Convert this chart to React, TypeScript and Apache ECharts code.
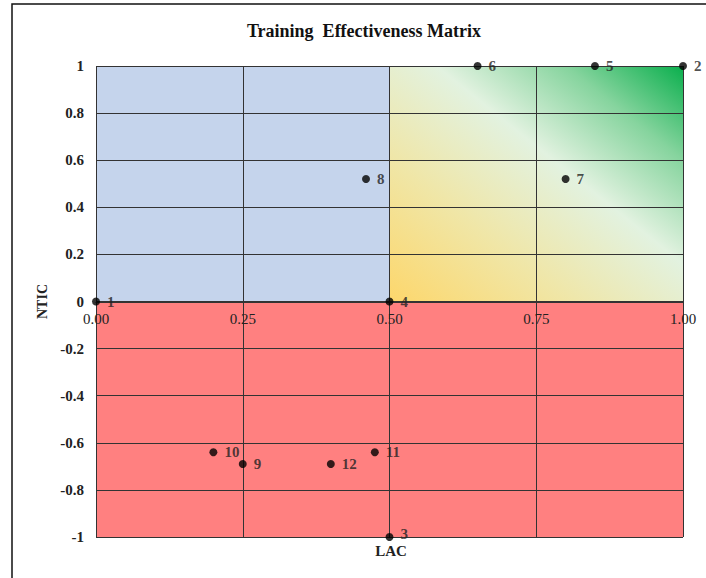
import React, { useEffect, useRef } from "react";
import * as echarts from "echarts";

const pointLabels = ["1", "2", "3", "4", "5", "6", "7", "8", "9", "10", "11", "12"];
const lacValues = [0, 1, 0.5, 0.5, 0.85, 0.65, 0.8, 0.46, 0.25, 0.2, 0.475, 0.4];
const nticValues = [0, 1, -1, 0, 1, 1, 0.52, 0.52, -0.69, -0.64, -0.64, -0.69];

const FONT = "'Liberation Serif', 'Times New Roman', serif";

export default function App() {
  const ref = useRef<HTMLDivElement>(null);
  useEffect(() => {
    document.body.style.margin = "0";
    const chart = echarts.init(ref.current!, null, { renderer: "svg" });
    const data = pointLabels.map((n, i) => ({
      name: n,
      value: [lacValues[i], nticValues[i]],
      label: n === "3" ? { offset: [0, -3] } : undefined,
    }));
    const gridColor = "#333333";
    chart.setOption({
      animation: false,
      backgroundColor: "#ffffff",
      title: {
        text: "Training  Effectiveness Matrix",
        left: 359,
        textAlign: "center",
        top: 17,
        textStyle: { fontFamily: FONT, fontWeight: "bold", fontSize: 18, color: "#111" },
      },
      graphic: [
        {
          type: "rect",
          shape: { x: 12, y: 4, width: 900, height: 800 },
          style: { fill: "none", stroke: "#111", lineWidth: 1.5 },
          silent: true,
          z: 100,
        },
        {
          type: "text",
          x: 391,
          y: 551,
          style: {
            text: "LAC",
            fontFamily: FONT,
            fontWeight: "bold",
            fontSize: 15,
            fill: "#222",
            align: "center",
            verticalAlign: "middle",
          },
          z: 50,
        },
      ],
      grid: { left: 96, right: 23, top: 66, bottom: 41, containLabel: false },
      xAxis: {
        type: "value",
        min: 0,
        max: 1,
        interval: 0.25,
        z: 3,
        position: "bottom",
        offset: -236,
        axisLine: { show: true, onZero: true, onZeroAxisIndex: 0, lineStyle: { color: gridColor, width: 1 } },
        axisTick: { show: false },
        axisLabel: {
          formatter: (v: number) => v.toFixed(2),
          fontFamily: FONT,
          fontSize: 15,
          color: "#222",
          margin: 10,
        },
        splitLine: { show: true, lineStyle: { color: gridColor, width: 1 } },
      },
      yAxis: {
        type: "value",
        min: -1,
        max: 1,
        interval: 0.2,
        z: 3,
        name: "NTIC",
        nameLocation: "middle",
        nameRotate: 90,
        nameGap: 44,
        nameTextStyle: { fontFamily: FONT, fontWeight: "bold", fontSize: 14, color: "#222" },
        axisLine: { show: false, onZero: false },
        axisTick: { show: false },
        axisLabel: {
          formatter: (v: number) => String(Math.round(v * 10) / 10),
          fontFamily: FONT,
          fontWeight: "bold",
          fontSize: 15,
          color: "#222",
          margin: 12,
        },
        splitLine: { show: true, lineStyle: { color: gridColor, width: 1 } },
      },
      series: [
        {
          type: "scatter",
          data: [],
          z: 1,
          silent: true,
          markArea: {
            silent: true,
            z: 1,
            data: [
              [
                { xAxis: 0, yAxis: 0, itemStyle: { color: "#c5d4ec" } },
                { xAxis: 0.5, yAxis: 1 },
              ],
              [
                {
                  xAxis: 0.5,
                  yAxis: 0,
                  itemStyle: {
                    color: new echarts.graphic.LinearGradient(0, 1, 1, 0, [
                      { offset: 0, color: "#fdd76c" },
                      { offset: 0.3, color: "#f0e6a6" },
                      { offset: 0.58, color: "#e2f2e0" },
                      { offset: 0.8, color: "#86d49e" },
                      { offset: 1, color: "#0aaf4d" },
                    ]),
                  },
                },
                { xAxis: 1, yAxis: 1 },
              ],
              [
                { xAxis: 0, yAxis: -1, itemStyle: { color: "#ff8080" } },
                { xAxis: 1, yAxis: 0 },
              ],
            ],
          },
        },
        {
          type: "scatter",
          data,
          symbolSize: 8,
          itemStyle: { color: "#000" },
          clip: false,
          z: 5,
          label: {
            show: true,
            position: "right",
            distance: 7,
            formatter: "{b}",
            fontFamily: FONT,
            fontWeight: "bold",
            fontSize: 15,
            color: "#222",
          },
        },
      ],
    });
    return () => chart.dispose();
  }, []);
  return <div ref={ref} style={{ width: 706, height: 578 }} />;
}
